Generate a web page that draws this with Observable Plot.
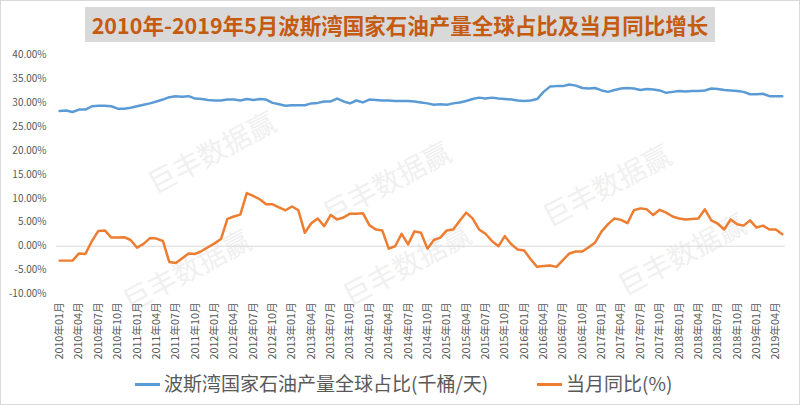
<!DOCTYPE html>
<html>
<head>
<meta charset="utf-8">
<script src="https://cdn.jsdelivr.net/npm/d3@7"></script>
<script src="https://cdn.jsdelivr.net/npm/@observablehq/plot@0.6"></script>
<style>
  html, body { margin: 0; padding: 0; background: #fff; }
  #frame { position: relative; width: 800px; height: 405px; box-sizing: border-box; border: 1px solid #d9d9d9; overflow: hidden; font-family: "Noto Sans CJK SC", sans-serif; }
  #title { position: absolute; left: 84px; top: 6px; width: 630px; height: 35px; background: #d9d9d9; color: #c55a11; font-weight: bold; font-size: 21.5px; line-height: 35px; text-align: center; white-space: nowrap; }
  #chart { position: absolute; left: -1px; top: 39px; }
  #legend { position: absolute; left: 0; top: 368px; width: 800px; height: 28px; color: #595959; font-size: 19px; line-height: 28px; white-space: nowrap; }
  .lg { position: absolute; top: 0; }
  .sw { display: inline-block; width: 25px; height: 3px; vertical-align: middle; margin-right: 4px; position: relative; top: -1px; }
  .wm { position: absolute; color: #f0f0f0; font-size: 28px; transform: rotate(-28deg); white-space: nowrap; pointer-events: none; }
</style>
</head>
<body>
<div id="frame">
  <div class="wm" style="left:140px;top:130px;">巨丰数据赢</div>
  <div class="wm" style="left:315px;top:160px;">巨丰数据赢</div>
  <div class="wm" style="left:535px;top:163px;">巨丰数据赢</div>
  <div class="wm" style="left:115px;top:248px;">巨丰数据赢</div>
  <div class="wm" style="left:335px;top:242px;">巨丰数据赢</div>
  <div class="wm" style="left:610px;top:232px;">巨丰数据赢</div>
  <div id="title">2010年-2019年5月波斯湾国家石油产量全球占比及当月同比增长</div>
  <div id="chart"></div>
  <div id="legend">
    <div class="lg" style="left:134px;"><span class="sw" style="background:#5b9bd5"></span>波斯湾国家石油产量全球占比(千桶/天)</div>
    <div class="lg" style="left:536px;"><span class="sw" style="background:#ed7d31"></span>当月同比(%)</div>
  </div>
</div>
<script>
// Categories: months 2010-01 .. 2019-05
const years = [2010, 2011, 2012, 2013, 2014, 2015, 2016, 2017, 2018, 2019];
const monthNums = ["01","02","03","04","05","06","07","08","09","10","11","12"];
const months = [];
for (const y of years) for (const m of monthNums) { if (y === 2019 && +m > 5) break; months.push(`${y}年${m}月`); }

// Share of global oil output (%), blue series
const share = [
  28.2, 28.3, 28.0, 28.5, 28.5, 29.2, 29.3, 29.3, 29.2, 28.7, 28.7, 28.9,
  29.2, 29.5, 29.8, 30.2, 30.6, 31.1, 31.3, 31.2, 31.3, 30.8, 30.7, 30.5,
  30.4, 30.4, 30.6, 30.6, 30.4, 30.7, 30.5, 30.7, 30.6, 29.9, 29.6, 29.3,
  29.4, 29.4, 29.4, 29.8, 29.9, 30.2, 30.2, 30.8, 30.2, 29.8, 30.4, 30.0,
  30.6, 30.5, 30.4, 30.4, 30.3, 30.3, 30.3, 30.2, 30.0, 29.8, 29.5, 29.6,
  29.5, 29.8, 30.0, 30.3, 30.7, 31.0, 30.8, 31.0, 30.8, 30.7, 30.6, 30.4,
  30.3, 30.4, 30.7, 32.2, 33.3, 33.4, 33.4, 33.75, 33.5, 33.0, 32.9, 33.0,
  32.5, 32.2, 32.6, 32.9, 33.0, 32.9, 32.6, 32.8, 32.7, 32.5, 32.0, 32.2,
  32.4, 32.3, 32.4, 32.4, 32.5, 32.9, 32.8, 32.6, 32.5, 32.4, 32.2, 31.7,
  31.7, 31.8, 31.3, 31.3, 31.3
];

// Year-on-year change (%), orange series
const yoy = [
  -3.0, -3.0, -3.0, -1.5, -1.6, 1.1, 3.2, 3.3, 1.8, 1.8, 1.9, 1.3,
  -0.3, 0.5, 1.7, 1.6, 1.1, -3.3, -3.5, -2.5, -1.5, -1.6, -1.0, -0.2,
  0.6, 1.5, 5.7, 6.2, 6.6, 11.1, 10.5, 9.8, 8.75, 8.75, 8.1, 7.5,
  8.3, 7.5, 2.8, 4.8, 5.8, 4.2, 6.5, 5.6, 6.0, 6.8, 6.8, 6.9,
  4.4, 3.5, 3.3, -0.5, 0.0, 2.6, 0.4, 3.1, 2.8, -0.5, 1.3, 1.8,
  3.3, 3.5, 5.3, 7.0, 5.8, 3.5, 2.6, 1.1, 0.0, 2.1, 0.4, -0.7,
  -0.9, -2.7, -4.3, -4.1, -4.0, -4.3, -2.9, -1.5, -1.1, -1.1, -0.2, 0.8,
  3.1, 4.6, 5.8, 5.5, 4.8, 7.5, 7.9, 7.7, 6.5, 7.6, 7.0, 6.2,
  5.8, 5.6, 5.7, 5.8, 7.7, 5.4, 4.7, 3.5, 5.6, 4.6, 4.3, 5.4,
  3.9, 4.3, 3.5, 3.5, 2.5
];

const yTicks = [-10, -5, 0, 5, 10, 15, 20, 25, 30, 35, 40];
const xTicks = months.filter((d, i) => i % 3 === 0);

const shareData = months.map((m, i) => ({month: m, value: share[i]}));
const yoyData = months.map((m, i) => ({month: m, value: yoy[i]}));

const chart = Plot.plot({
  width: 800,
  height: 325,
  marginLeft: 56,
  marginRight: 14,
  marginTop: 14,
  marginBottom: 71,
  style: {fontFamily: "'Noto Sans CJK SC', sans-serif", fontSize: "10px", color: "#595959", background: "transparent"},
  x: {type: "point", domain: months, padding: 0.5},
  y: {domain: [-10, 40]},
  marks: [
    Plot.ruleY([0], {stroke: "#d9d9d9", strokeWidth: 1}),
    Plot.axisY({ticks: yTicks, tickFormat: d => d.toFixed(2) + "%", tickSize: 0, tickPadding: 10, label: null}),
    Plot.axisX({ticks: xTicks, tickRotate: -90, tickSize: 0, tickPadding: 8, fontSize: 10.8, label: null}),
    Plot.line(shareData, {x: "month", y: "value", stroke: "#5b9bd5", strokeWidth: 2.5, curve: "linear"}),
    Plot.line(yoyData, {x: "month", y: "value", stroke: "#ed7d31", strokeWidth: 2.5, curve: "linear"})
  ]
});
document.getElementById("chart").appendChild(chart);
</script>
</body>
</html>
